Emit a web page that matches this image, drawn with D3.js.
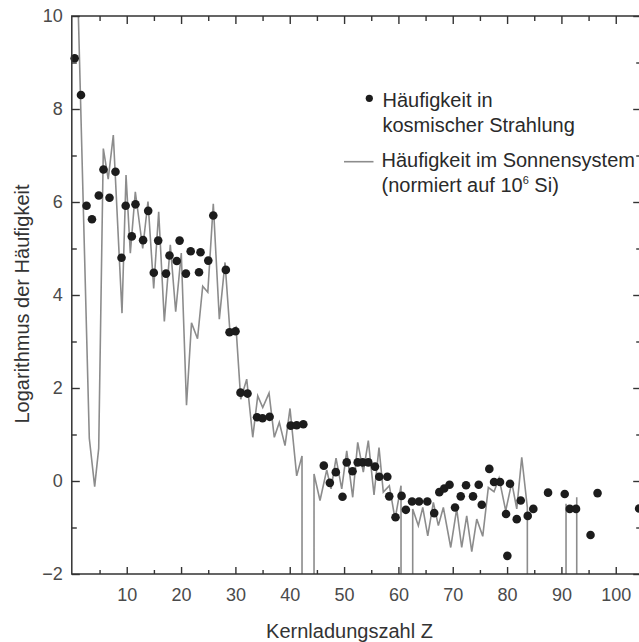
<!DOCTYPE html>
<html lang="de">
<head>
    <meta charset="UTF-8">
    <title>Häufigkeit der Elemente</title>
    <script src="https://d3js.org/d3.v7.min.js"></script>
    <style>
        body { margin: 0; background: #fff; }
        svg { display: block; font-family: "Liberation Sans", Arial, sans-serif; }
        .frame { stroke: #333; stroke-width: 1.5px; fill: none; }
        .axis line { stroke: #333; stroke-width: 1.4px; }
        .axis text { fill: #4a4a4a; font-size: 18px; font-family: "Liberation Sans", Arial, sans-serif; }
        .title { fill: #333; font-size: 20px; }
        .legend { fill: #2a2a2a; font-size: 20px; }
        .solar { fill: none; stroke: #8c8c8c; stroke-width: 1.6px; }
        .cosmic { fill: #1c1c1c; }
    </style>
</head>
<body>
<svg width="639" height="642"></svg>
<script>
    // Sonnensystem: Lage auf der Z-Achse und log. Häufigkeit (null = Element fehlt, log -> -inf)
    const solarZ = [1.0, 3.11, 4.1, 4.84, 5.69, 6.59, 7.53, 9.13, 9.87, 10.66, 11.58, 12.94, 13.91, 14.96,
        15.88, 16.92, 18.02, 19.01, 20.04, 21.0, 21.92, 23.03, 23.98, 24.92, 25.93, 27.04, 28.09, 29.0,
        30.11, 30.98, 32.08, 33.19, 34.11, 35.03, 36.19, 37.16, 38.08, 39.13, 40.05, 41.28, 42.26, 43.3,
        44.47, 45.57, 46.81, 47.6, 48.52, 49.57, 50.49, 51.59, 52.51, 53.54, 54.46, 55.51, 56.43, 57.22,
        58.33, 59.38, 60.48, 61.5, 62.63, 63.67, 64.48, 65.4, 66.43, 67.35, 68.27, 69.63, 70.73, 71.65,
        72.57, 73.5, 74.42, 75.52, 76.55, 77.6, 78.52, 79.75, 80.86, 81.78, 82.7, 83.73, 87, 90.85, 91.8, 92.82];
    const solarLog = [10.45, 0.92, -0.12, 0.70, 7.15, 6.49, 7.44, 3.61, 6.58, 4.90, 6.22, 5.00, 6.01, 4.14,
        5.79, 3.43, 5.08, 3.64, 4.90, 1.63, 3.40, 3.06, 4.19, 4.06, 5.96, 3.48, 4.70, 3.20,
        3.31, 1.76, 2.19, 0.94, 1.83, 1.58, 1.89, 0.94, 1.26, 0.76, 1.56, 0.11, 0.54, null,
        0.15, -0.42, 0.24, -0.17, 0.49, -0.17, 0.65, -0.35, 0.83, 0.19, 0.87, -0.30, 0.72, -0.24,
        -0.10, -0.82, -0.10, null, -0.60, -0.96, -0.57, -1.18, -0.46, -0.96, -0.57, -1.43, -0.60, -1.43,
        -0.75, -1.52, -0.82, -1.19, -0.14, -0.23, 0.06, -0.64, -0.03, -0.60, 0.51, -0.57, null, -0.49, null, -0.35];

    // kosmische Strahlung
    const cosmicZ = [0.42, 1.58, 2.6, 3.6, 4.86, 5.72, 6.83, 7.93, 9.04, 9.81, 10.93, 11.61, 13.01, 13.95,
        14.98, 15.79, 17.23, 17.87, 19.2, 19.73, 20.89, 21.77, 23.3, 23.58, 25.01, 25.93, 28.24, 28.92,
        30.02, 30.94, 32.23, 33.98, 34.99, 36.3, 40.18, 41.28, 42.5, 46.27, 47.38, 48.48, 49.71, 50.49,
        51.56, 52.51, 53.43, 54.46, 55.7, 56.47, 57.96, 58.31, 59.47, 60.58, 61.37, 62.51, 63.8, 65.32,
        66.59, 67.53, 68.43, 69.41, 70.42, 71.47, 72.45, 73.73, 74.78, 75.34, 76.73, 77.6, 78.7, 79.81,
        80.05, 80.54, 81.78, 82.51, 83.8, 84.83, 87.54, 90.61, 91.53, 92.69, 95.36, 96.65, 104.3];
    const cosmicLog = [9.09, 8.30, 5.92, 5.63, 6.14, 6.70, 6.09, 6.65, 4.80, 5.92, 5.26, 5.95, 5.18, 5.81,
        4.48, 5.17, 4.46, 4.85, 4.73, 5.17, 4.46, 4.94, 4.49, 4.92, 4.74, 5.71, 4.54, 3.20,
        3.22, 1.90, 1.88, 1.37, 1.35, 1.38, 1.19, 1.20, 1.22, 0.33, -0.04, 0.19, -0.34, 0.40,
        0.21, 0.40, 0.40, 0.40, 0.31, 0.09, 0.09, -0.33, -0.78, -0.32, -0.62, -0.44, -0.44, -0.44,
        -0.69, -0.24, -0.16, -0.08, -0.57, -0.33, -0.09, -0.33, -0.08, -0.51, 0.26, -0.02, -0.02, -0.71,
        -1.61, -0.06, -0.82, -0.42, -0.75, -0.60, -0.25, -0.28, -0.60, -0.60, -1.16, -0.26, -0.59];

    const xMajor = [10, 20, 30, 40, 50, 60, 70, 80, 90, 100];
    const xMinor = [5, 15, 25, 35, 45, 55, 65, 75, 85, 95];
    const yMajor = [-2, 0, 2, 4, 6, 8, 10];
    const yMinor = [-1, 1, 3, 5, 7, 9];

    const svg = d3.select("svg");
    const plotLeft = 72.4, plotRight = 640.2, plotTop = 16, plotBottom = 574;

    const x = d3.scaleLinear().domain([0, 104.5]).range([plotLeft, plotRight]);
    const y = d3.scaleLinear().domain([-2, 10]).range([plotBottom, plotTop]);

    svg.append("clipPath").attr("id", "plot")
        .append("rect")
        .attr("x", plotLeft).attr("y", plotTop)
        .attr("width", plotRight - plotLeft).attr("height", plotBottom - plotTop);

    // Sonnensystem-Linie; fehlende Elemente fallen senkrecht unter die Achse
    const floor = y(-2) + 10;
    let pts = [];
    solarZ.forEach((z, i) => {
        const v = solarLog[i];
        if (v !== null) {
            pts.push([x(z), y(v)]);
            return;
        }
        if (i > 0 && solarLog[i - 1] !== null) pts.push([x(solarZ[i - 1]), floor]);
        if (i < solarZ.length - 1 && solarLog[i + 1] !== null) pts.push([x(solarZ[i + 1]), floor]);
    });

    svg.append("path")
        .attr("class", "solar")
        .attr("clip-path", "url(#plot)")
        .attr("d", d3.line()(pts));

    svg.append("g").selectAll("circle")
        .data(cosmicZ.map((z, i) => ({z: z, v: cosmicLog[i]})))
        .join("circle")
        .attr("class", "cosmic")
        .attr("cx", d => x(d.z))
        .attr("cy", d => y(d.v))
        .attr("r", 4.3);

    // Achsen
    function plain(g) {
        g.attr("class", "axis");
        g.select(".domain").remove();
    }

    svg.append("g").attr("transform", `translate(0,${plotBottom})`)
        .call(d3.axisBottom(x).tickValues(xMinor).tickSize(-4).tickFormat(""))
        .call(plain);
    svg.append("g").attr("transform", `translate(0,${plotBottom})`)
        .call(d3.axisBottom(x).tickValues(xMajor).tickSize(-7).tickPadding(14))
        .call(plain);

    svg.append("g").attr("transform", `translate(0,${plotTop})`)
        .call(d3.axisTop(x).tickValues(xMinor).tickSize(-5).tickFormat(""))
        .call(plain);
    svg.append("g").attr("transform", `translate(0,${plotTop})`)
        .call(d3.axisTop(x).tickValues(xMajor).tickSize(-8).tickFormat(""))
        .call(plain);

    svg.append("g").attr("transform", `translate(${plotLeft - 0.6},0)`)
        .call(d3.axisLeft(y).tickValues(yMinor).tickSize(-5).tickFormat(""))
        .call(plain);
    svg.append("g").attr("transform", `translate(${plotLeft - 0.6},0)`)
        .call(d3.axisLeft(y).tickValues(yMajor).tickSize(-8).tickPadding(9)
            .tickFormat(d => d < 0 ? "\u2212" + Math.abs(d) : d))
        .call(plain);

    svg.append("g").attr("transform", `translate(${plotRight},0)`)
        .call(d3.axisLeft(y).tickValues(yMinor).tickSize(4).tickFormat(""))
        .call(plain);
    svg.append("g").attr("transform", `translate(${plotRight},0)`)
        .call(d3.axisLeft(y).tickValues(yMajor).tickSize(7).tickFormat(""))
        .call(plain);

    svg.append("path")
        .attr("class", "frame")
        .attr("d", `M${plotRight},${plotTop}H${plotLeft - 0.6}V${plotBottom}H${plotRight}`);

    // Achsentitel
    svg.append("text")
        .attr("class", "title")
        .attr("x", 349.5).attr("y", 638)
        .attr("text-anchor", "middle")
        .text("Kernladungszahl Z");

    svg.append("text")
        .attr("class", "title")
        .attr("transform", "translate(29,304) rotate(-90)")
        .attr("text-anchor", "middle")
        .text("Logarithmus der Häufigkeit");

    // Legende
    const legend = svg.append("g");
    legend.append("circle").attr("class", "cosmic")
        .attr("cx", 369.3).attr("cy", 98.3).attr("r", 3.6);
    legend.append("text").attr("class", "legend")
        .attr("x", 382.5).attr("y", 107).text("Häufigkeit in");
    legend.append("text").attr("class", "legend")
        .attr("x", 382.5).attr("y", 131.5).text("kosmischer Strahlung");

    legend.append("line").attr("class", "solar")
        .attr("x1", 344).attr("x2", 373.5)
        .attr("y1", 161.7).attr("y2", 161.7);
    legend.append("text").attr("class", "legend")
        .attr("x", 381.5).attr("y", 167).text("Häufigkeit im Sonnensystem");
    const norm = legend.append("text").attr("class", "legend")
        .attr("x", 381.5).attr("y", 191.5);
    norm.append("tspan").text("(normiert auf 10");
    norm.append("tspan").attr("dy", -8).attr("font-size", 11).text("6");
    norm.append("tspan").attr("dy", 8).text(" Si)");
</script>
</body>
</html>
